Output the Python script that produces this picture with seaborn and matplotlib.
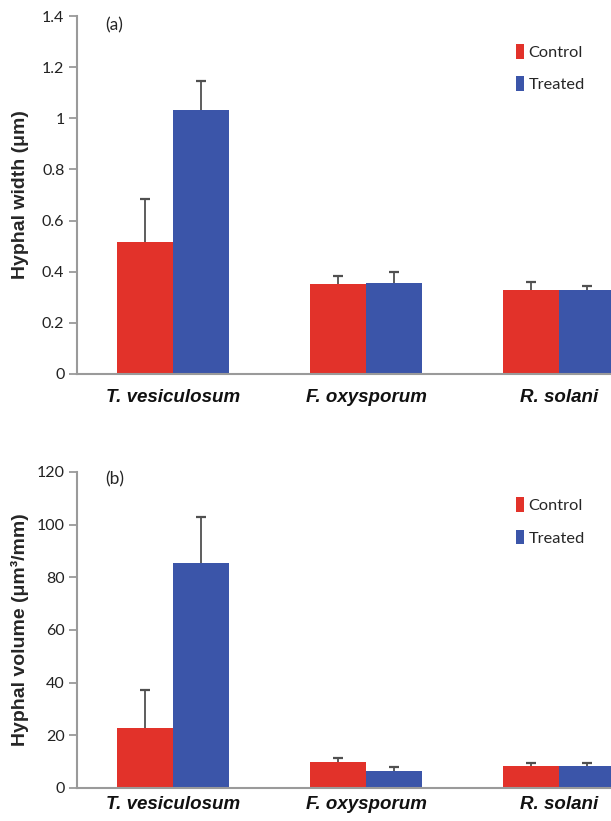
import numpy as np
import pandas as pd
import seaborn as sns
import matplotlib.pyplot as plt
from matplotlib.ticker import FuncFormatter

# data
fungi = ["T. vesiculosum", "F. oxysporum", "R. solani"]
groups = ["Control", "Treated"]

width_control = [0.515, 0.352, 0.329]
width_treated = [1.034, 0.355, 0.329]
width_control_err = [0.171, 0.033, 0.030]
width_treated_err = [0.111, 0.045, 0.014]

volume_control = [22.6, 9.9, 8.2]
volume_treated = [85.4, 6.3, 8.2]
volume_control_err = [14.6, 1.3, 1.4]
volume_treated_err = [17.5, 1.7, 1.1]

width_ticks = [0, 0.2, 0.4, 0.6, 0.8, 1.0, 1.2, 1.4]
volume_ticks = [0, 20, 40, 60, 80, 100, 120]

RED = "#E2322A"
BLUE = "#3B55A9"
GREY = "#9A9A9A"

sns.set_style("ticks")
plt.rcParams["font.family"] = ["Lato", "DejaVu Sans"]

fig = plt.figure(figsize=(6.11, 8.21), dpi=100)
ax_a = fig.add_axes([0.126, 0.5445, 0.874, 0.436])
ax_b = fig.add_axes([0.126, 0.0402, 0.874, 0.385])


def panel(ax, control, treated, control_err, treated_err, ticks, ylabel, tag,
          leg_y, xpad):
    df = pd.DataFrame({
        "fungus": fungi * 2,
        "group": [groups[0]] * 3 + [groups[1]] * 3,
        "value": control + treated,
    })
    sns.barplot(data=df, x="fungus", y="value", hue="group", order=fungi,
                hue_order=groups, palette=[RED, BLUE], saturation=1,
                width=0.58, errorbar=None, linewidth=0, ax=ax, zorder=2)

    # one-sided error bars on top of each bar
    errs = {groups[0]: control_err, groups[1]: treated_err}
    for cont, g in zip(ax.containers, groups):
        xs = [p.get_x() + p.get_width() / 2 for p in cont.patches]
        ys = [p.get_height() for p in cont.patches]
        e = np.array(errs[g])
        _, caps, _ = ax.errorbar(xs, ys, yerr=[np.zeros_like(e), e], fmt="none",
                                 ecolor="#505050", elinewidth=1.3, capsize=3.5,
                                 capthick=1.6, zorder=3)
        caps[0].set_visible(False)

    ax.set_xlim(-0.5, 2.27)
    ax.set_ylim(ticks[0], ticks[-1])
    ax.set_yticks(ticks)
    ax.yaxis.set_major_formatter(FuncFormatter(lambda v, _: f"{v:g}"))
    ax.tick_params(axis="y", length=6, width=1.3, color=GREY, labelsize=11.5,
                   labelcolor="#222222", pad=3)
    ax.tick_params(axis="x", length=0, pad=xpad)
    for lab in ax.get_xticklabels():
        lab.set_family("Liberation Sans")
        lab.set_fontweight("bold")
        lab.set_fontstyle("italic")
        lab.set_fontsize(13.5)
        lab.set_color("#111111")

    sns.despine(ax=ax)
    for s in ["left", "bottom"]:
        ax.spines[s].set_color(GREY)
        ax.spines[s].set_linewidth(1.5)

    ax.set_xlabel("")
    ax.set_ylabel(ylabel, family="Liberation Sans", fontweight="bold",
                  fontsize=14)
    ax.yaxis.set_label_coords(-0.09, 0.5)
    ax.text(0.052, 0.975, tag, transform=ax.transAxes, fontsize=12.5,
            va="center", ha="left")

    handles, labels = ax.get_legend_handles_labels()
    ax.legend(handles, labels, loc="upper left", bbox_to_anchor=(0.81, leg_y),
              frameon=False, fontsize=11.8, handlelength=0.5, handleheight=1.0,
              handletextpad=0.25, labelspacing=1.0, borderaxespad=0)


panel(ax_a, width_control, width_treated, width_control_err, width_treated_err,
      width_ticks, "Hyphal width (μm)", "(a)", 0.94, 11)
panel(ax_b, volume_control, volume_treated, volume_control_err, volume_treated_err,
      volume_ticks, "Hyphal volume (μm³/mm)", "(b)", 0.94, 6)

fig.savefig("out.png", dpi=100)
